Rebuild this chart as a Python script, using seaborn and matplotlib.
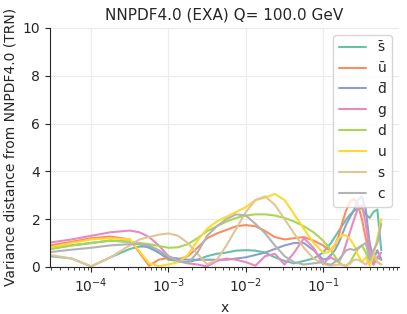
import numpy as np
import pandas as pd
import matplotlib
matplotlib.use("Agg")
import matplotlib.pyplot as plt
import seaborn as sns

# log10(x) sample points
logx = [-4.53, -4.25, -4.0, -3.75, -3.5,
        -3.375, -3.25, -3.125, -3.0, -2.875, -2.75, -2.625, -2.5, -2.375, -2.25,
        -2.125, -2.0, -1.875, -1.75, -1.625, -1.5, -1.375, -1.25, -1.125, -1.0,
        -0.95, -0.9, -0.85, -0.8, -0.75, -0.7, -0.65, -0.6, -0.55, -0.5,
        -0.45, -0.4, -0.35, -0.3, -0.25]

sbar = [0.45, 0.35, 0.02, 0.4, 0.75,
        0.85, 0.85, 0.6, 0.3, 0.25, 0.2, 0.3, 0.45, 0.55, 0.6,
        0.68, 0.7, 0.68, 0.6, 0.4, 0.25, 0.15, 0.25, 0.35, 0.6,
        0.8, 1.0, 1.25, 1.5, 1.75, 2.0, 2.2, 2.35, 2.45, 2.45,
        2.2, 2.05, 2.3, 2.4, 0.7]
ubar = [0.9, 1.05, 1.2, 1.27, 1.15,
        0.6, 0.05, 0.3, 0.38, 0.3, 0.45, 0.8, 1.2, 1.4, 1.55,
        1.7, 1.75, 1.7, 1.5, 1.25, 1.15, 1.2, 1.25, 1.1, 0.9,
        0.75, 0.7, 0.9, 1.3, 1.9, 2.4, 2.75, 2.85, 2.6, 2.0,
        1.2, 0.5, 0.1, 0.4, 0.3]
dbar = [0.75, 0.9, 1.0, 1.1, 1.05,
        0.95, 0.8, 0.6, 0.4, 0.35, 0.3, 0.3, 0.3, 0.3, 0.3,
        0.35, 0.4, 0.5, 0.6, 0.75, 0.9, 1.0, 1.0, 0.7, 0.3,
        0.35, 0.5, 0.7, 1.0, 1.4, 1.8, 2.1, 2.4, 2.8, 2.95,
        2.4, 1.0, 0.3, 0.7, 0.3]
g = [1.02, 1.15, 1.3, 1.45, 1.52,
     1.45, 1.25, 0.9, 0.45, 0.25, 0.15, 0.1, 0.02, 0.25, 0.35,
     0.3, 0.2, 0.05, 0.45, 0.55, 0.1, 0.6, 1.2, 0.8, 0.1,
     0.3, 0.4, 0.3, 0.2, 0.5, 1.0, 1.5, 2.0, 2.45, 2.6,
     1.8, 0.6, 0.1, 0.4, 0.6]
d = [0.75, 0.9, 1.0, 1.1, 1.05,
     1.0, 0.95, 0.88, 0.8, 0.82, 0.95, 1.2, 1.5, 1.7, 1.9,
     2.05, 2.15, 2.2, 2.2, 2.15, 2.05, 1.9, 1.7, 1.45, 1.1,
     0.9, 0.7, 0.45, 0.2, 0.08, 0.05, 0.2, 0.5, 0.75, 0.9,
     0.6, 0.2, 0.4, 0.2, 0.1]
u = [0.82, 1.0, 1.15, 1.2, 1.15,
     0.65, 0.15, 0.03, 0.1, 0.2, 0.5, 1.1, 1.6, 1.9, 2.1,
     2.3, 2.5, 2.8, 2.9, 3.05, 2.8, 2.2, 1.6, 1.0, 0.6,
     0.6, 0.7, 0.95, 1.2, 1.35, 1.3, 1.15, 0.9, 0.5, 0.2,
     0.4, 0.05, 0.5, 1.2, 2.0]
s = [0.5, 0.35, 0.02, 0.4, 0.9,
     1.15, 1.25, 1.35, 1.4, 1.3, 1.0, 0.55, 0.1, 0.3, 0.9,
     1.6, 2.3, 2.8, 2.95, 2.6, 2.0, 1.4, 0.8, 0.35, 0.15,
     0.08, 0.05, 0.08, 0.1, 0.08, 0.05, 0.15, 0.3, 0.3, 0.2,
     0.1, 0.3, 0.6, 0.2, 0.1]
c = [0.62, 0.72, 0.8, 0.9, 0.95,
     0.95, 0.9, 0.7, 0.45, 0.25, 0.15, 0.6, 1.3, 1.7, 2.0,
     2.2, 2.15, 1.8, 1.4, 0.9, 0.45, 0.2, 0.1, 0.15, 0.2,
     0.12, 0.1, 0.2, 0.3, 0.5, 0.7, 0.75, 0.7, 0.8, 0.9,
     1.0, 0.3, 0.7, 1.0, 1.8]

labels = ["s\u0304", "u\u0304", "d\u0304", "g", "d", "u", "s", "c"]
series = [sbar, ubar, dbar, g, d, u, s, c]

rows = []
for lab, vals in zip(labels, series):
    for lx, v in zip(logx, vals):
        rows.append({"x": 10 ** lx, "dist": v, "flavour": lab})
df = pd.DataFrame(rows)

sns.set_style("ticks", {"axes.grid": True, "grid.color": "#ebebeb"})

fig, ax = plt.subplots(figsize=(4.07, 3.14), dpi=100)
fig.subplots_adjust(left=0.123, right=0.98, bottom=0.15, top=0.911)

sns.lineplot(data=df, x="x", y="dist", hue="flavour", hue_order=labels,
             palette="Set2", linewidth=1.5, ax=ax, sort=False)

ax.set_xscale("log")
ax.set_xlim(2.95e-5, 0.95)
ax.set_ylim(0, 10)
ax.set_yticks([0, 2, 4, 6, 8, 10])
ax.set_xlabel("x", fontsize=10)
ax.set_ylabel("Variance distance from NNPDF4.0 (TRN)", fontsize=10)
ax.set_title("NNPDF4.0 (EXA) Q= 100.0 GeV", fontsize=11)
ax.tick_params(labelsize=10)
ax.legend(loc="upper right", fontsize=10, title=None)
sns.despine(ax=ax)

plt.savefig("out.png", dpi=100)
